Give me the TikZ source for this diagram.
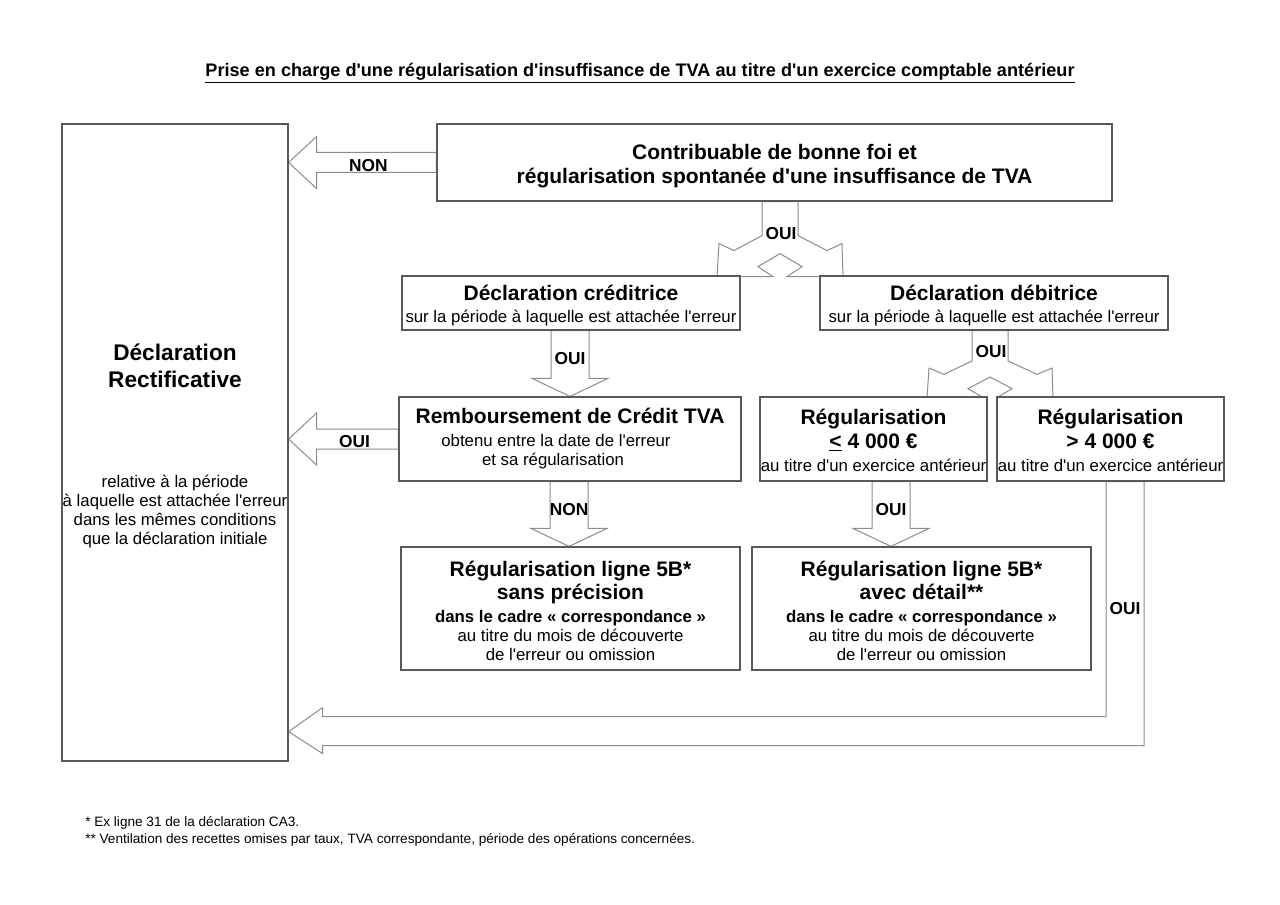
\documentclass[tikz,border=0pt]{standalone}
\usepackage{fontspec}
\setmainfont{Liberation Sans}[Ligatures=TeXOff]
\usetikzlibrary{calc}
\pgfdeclarelayer{back}
\pgfsetlayers{back,main}

\definecolor{boxline}{gray}{0.35}
\definecolor{arrowline}{gray}{0.55}

\newcommand\hdr{\fontsize{15.75}{18}\selectfont\bfseries}
\newcommand\sml{\fontsize{12.6}{14.25}\selectfont\lineskiplimit=-50pt\relax}
\newcommand\lbl{\fontsize{13}{15}\selectfont\bfseries}
\newcommand\lift[1]{\rule{0pt}{#1pt}}

\tikzset{
  box/.style 2 args={draw=boxline, line width=0.9pt, fill=white, inner sep=0pt,
    align=center, font=\sml, minimum width=#1*0.75pt, minimum height=#2*0.75pt},
  blockarrow/.style={draw=arrowline, line width=0.75pt, fill=white, line join=miter},
  answer/.style={font=\lbl, inner sep=1pt},
  note/.style={font=\fontsize{10.2}{12}\selectfont, anchor=west, inner sep=0pt},
}

\begin{document}
\begin{tikzpicture}[x=0.75pt, y=-0.75pt]
    \useasboundingbox (0,0) rectangle (1280,905);

    % Titre
    \node[font=\fontsize{13.6}{16}\selectfont\bfseries] (titre) at (640,73)
        {\underline{Prise en charge d'une régularisation d'insuffisance de TVA au titre d'un exercice comptable antérieur}};

    % Colonne de gauche
    \node[box={226}{637}] (rect) at (175,442.5)
        {\lift{16.9}{\fontsize{17}{20}\selectfont\bfseries Déclaration}\\[6pt]
         {\fontsize{17}{20}\selectfont\bfseries Rectificative}\\[60.75pt]
         relative à la période\\ à laquelle est attachée l'erreur\\
         dans les mêmes conditions\\ que la déclaration initiale};

    % Question de depart
    \node[box={675}{77}] (bonnefoi) at (774.5,162.5)
        {\lift{17.5}{\hdr Contribuable de bonne foi et}\\[3.75pt]
         {\hdr régularisation spontanée d'une insuffisance de TVA}};

    % Nature de la declaration
    \node[box={338}{54}] (credit) at (571,303)
        {\lift{16.1}{\hdr Déclaration créditrice}\\[2.25pt] sur la période à laquelle est attachée l'erreur};
    \node[box={348}{54}] (debit) at (994,303)
        {\lift{16.1}{\hdr Déclaration débitrice}\\[2.25pt] sur la période à laquelle est attachée l'erreur};

    % Deuxieme niveau
    \node[box={342}{84}] (rembours) at (570,439)
        {{\hdr Remboursement de Crédit TVA}\\[3pt]
         obtenu entre la date de l'erreur\hspace*{21pt}\null\\
         et sa régularisation\hspace*{25.5pt}\null};
    \node[box={227}{84}] (regA) at (873.5,439)
        {\lift{13.5}{\hdr Régularisation}\\[3.75pt] {\hdr\underline{<} 4 000 €}\\[3pt]
         au titre d'un exercice antérieur};
    \node[box={227}{84}] (regB) at (1110.5,439)
        {\lift{13.5}{\hdr Régularisation}\\[3.75pt] {\hdr > 4 000 €}\\[3pt]
         au titre d'un exercice antérieur};

    % Regularisations ligne 5B
    \node[box={339}{123}] (sansprec) at (570.5,608.5)
        {\lift{15.4}{\hdr Régularisation ligne 5B*}\\[3pt] {\hdr sans précision}\\[3pt]
         {\bfseries dans le cadre « correspondance »}\\
         au titre du mois de découverte\\ de l'erreur ou omission};
    \node[box={339}{123}] (avecdet) at (921.5,608.5)
        {\lift{15.4}{\hdr Régularisation ligne 5B*}\\[3pt] {\hdr avec détail**}\\[3pt]
         {\bfseries dans le cadre « correspondance »}\\
         au titre du mois de découverte\\ de l'erreur ou omission};

    % Notes
    \node[note] (note1) at (85,823) {* Ex ligne 31 de la déclaration CA3.};
    \node[note] (note2) at (85,840) {** Ventilation des recettes omises par taux, TVA correspondante, période des opérations concernées.};

    \begin{pgfonlayer}{back}
        % Fleches vers la declaration rectificative
        \foreach \from/\lab/\p in {bonnefoi/NON/0.46, rembours/OUI/0.40} {
            \coordinate (tip) at (rect.east |- \from.west);
            \draw[blockarrow] ($(\from.west)+(0,-10)$) -- ($(tip)+(28,-10)$) -- ($(tip)+(28,-26)$)
                -- (tip) -- ($(tip)+(28,26)$) -- ($(tip)+(28,10)$) -- ($(\from.west)+(0,10)$) -- cycle;
            \path (\from.west) -- (tip) node[answer, pos=\p, yshift=-2pt] {\lab};
        }

        % Fleches vers le bas
        \foreach \from/\to/\dx/\lab in {credit/rembours/-1/OUI, rembours/sansprec/-1/NON, regA/avecdet/17.5/OUI} {
            \coordinate (s) at ($(\from.south)+(\dx,0)$);
            \coordinate (t) at (s |- \to.north);
            \draw[blockarrow] ($(s)+(-19,0)$) -- ($(t)+(-19,-18)$) -- ($(t)+(-38,-18)$) -- (t)
                -- ($(t)+(38,-18)$) -- ($(t)+(19,-18)$) -- ($(s)+(19,0)$) -- cycle;
            \path (s) -- (t) node[answer, pos=0.43] {\lab};
        }

        % Fourches OUI
        \foreach \from/\dx/\ys in {bonnefoi/5.5/1, debit/-4/0.893} {
            \begin{scope}[shift={($(\from.south)+(\dx,0)$)}, yscale=\ys]
                \draw[blockarrow] (-18,0) -- (-18,34) -- (-46,49) -- (-61,42) -- (-63,75) -- (-7,75)
                    -- (-22,65) -- (0,52) -- (22,65) -- (7,75) -- (63,75) -- (62,42) -- (47,49)
                    -- (18,34) -- (18,0) -- cycle;
            \end{scope}
        }
        \node[answer] (ouiA) at ($(bonnefoi.south)+(6.5,32)$) {OUI};
        \node[answer] (ouiB) at ($(debit.south)+(-3,21)$) {OUI};

        % Retour depuis la regularisation > 4 000
        \coordinate (tipbas) at ($(rect.south east)+(0,-30)$);
        \draw[blockarrow] ($(regB.south)+(-4.5,0)$) -- ($(regB.south)+(-4.5,235)$)
            -- ($(tipbas)+(34,-15)$) -- ($(tipbas)+(34,-24)$) -- (tipbas)
            -- ($(tipbas)+(34,22)$) -- ($(tipbas)+(34,14)$)
            -- ($(regB.south)+(33.5,264)$) -- ($(regB.south)+(33.5,0)$) -- cycle;
        \node[answer] (ouiC) at ($(regB.south)+(14.5,127)$) {OUI};
    \end{pgfonlayer}

\end{tikzpicture}
\end{document}
